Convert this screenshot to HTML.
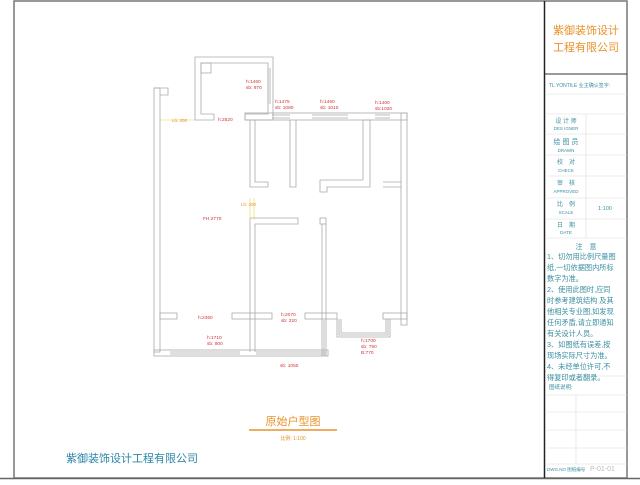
<!DOCTYPE html>
<html><head><meta charset="utf-8"><style>
body{margin:0;width:640px;height:480px;background:#fff;overflow:hidden;font-family:"Liberation Sans","Noto Sans CJK SC",sans-serif}
</style></head><body>
<svg width="640" height="480" viewBox="0 0 640 480" xmlns="http://www.w3.org/2000/svg" font-family="Liberation Sans, Noto Sans CJK SC, sans-serif">
<!-- frame -->
<rect x="14" y="1" width="613" height="477" fill="none" stroke="#777" stroke-width="1.5"/>
<line x1="0" y1="478.5" x2="640" y2="478.5" stroke="#666" stroke-width="1.5"/>
<line x1="544.5" y1="1" x2="544.5" y2="478" stroke="#222" stroke-width="1.5"/>
<line x1="545" y1="74" x2="627" y2="74" stroke="#333" stroke-width="1"/>
<text x="586" y="34" font-size="11" fill="#e8922a" text-anchor="middle">紫御装饰设计</text>
<text x="586" y="51" font-size="11" fill="#e8922a" text-anchor="middle">工程有限公司</text>
<text x="549" y="87" font-size="5" fill="#3a8fa0">TL  YONTILE  业主确认签字:</text>
<g stroke="#ddd" stroke-width="0.6">
<line x1="545" y1="94" x2="627" y2="94"/>
<line x1="545" y1="114" x2="627" y2="114"/>
<line x1="545" y1="134" x2="627" y2="134"/>
<line x1="545" y1="155" x2="627" y2="155"/>
<line x1="545" y1="176" x2="627" y2="176"/>
<line x1="545" y1="198" x2="627" y2="198"/>
<line x1="545" y1="219" x2="627" y2="219"/>
<line x1="545" y1="238" x2="627" y2="238"/>
<line x1="586" y1="114" x2="586" y2="238"/>
<line x1="545" y1="376" x2="627" y2="376"/>
<line x1="545" y1="395" x2="627" y2="395"/>
<line x1="545" y1="412" x2="627" y2="412"/>
<line x1="545" y1="430" x2="627" y2="430"/>
<line x1="545" y1="448" x2="627" y2="448"/>
<line x1="545" y1="464" x2="627" y2="464"/>
<line x1="576" y1="395" x2="576" y2="464"/>
</g>
<g fill="#3a8fa0" text-anchor="middle">
<text x="566" y="123" font-size="6">设 计 师</text><text x="566" y="130" font-size="4.5">DES IGNER</text>
<text x="566" y="144" font-size="7">绘 图 员</text><text x="566" y="152" font-size="4.5">DRAWN</text>
<text x="566" y="164" font-size="6">校　对</text><text x="566" y="172" font-size="4.5">CHECK</text>
<text x="566" y="185" font-size="6">审　核</text><text x="566" y="193" font-size="4.5">APPROVED</text>
<text x="566" y="206" font-size="6">比　例</text><text x="566" y="214" font-size="4.5">SCALE</text>
<text x="605" y="210" font-size="5.5">1:100</text>
<text x="566" y="227" font-size="6">日　期</text><text x="566" y="234" font-size="4.5">DATE</text>
<text x="586" y="249" font-size="7">注　意</text>
</g>
<g fill="#3a8fa0" font-size="7.2">
<text x="547" y="259">1、切勿用比例尺量图</text>
<text x="547" y="270">纸,一切依据图内所标</text>
<text x="547" y="281">数字为准。</text>
<text x="547" y="292">2、使用此图时,应同</text>
<text x="547" y="303">时参考建筑结构 及其</text>
<text x="547" y="314">他相关专业图,如发现</text>
<text x="547" y="325">任何矛盾,请立即通知</text>
<text x="547" y="336">有关设计人员。</text>
<text x="547" y="347">3、如图纸有误差,按</text>
<text x="547" y="358">现场实际尺寸为准。</text>
<text x="547" y="369">4、未经单位许可,不</text>
<text x="547" y="380">得复印或者翻录。</text>
<text x="549" y="389" font-size="5.5">图纸说明:</text>
<text x="547" y="471" font-size="4.5">DWG.NO 图纸编号</text>
</g>
<text x="590" y="471" font-size="7" fill="#bbb">P-01-01</text>

<!-- title -->
<text x="293" y="425" font-size="11" fill="#e8922a" text-anchor="middle">原始户型图</text>
<line x1="249" y1="430" x2="337" y2="430" stroke="#e8922a" stroke-width="1.5"/>
<text x="293" y="440" font-size="5" fill="#e8922a" text-anchor="middle">比例: 1:100</text>
<text x="66" y="462" font-size="11" fill="#2a86a8">紫御装饰设计工程有限公司</text>

<!-- plan -->
<g fill="none" stroke="#aaa" stroke-width="0.8">
<!-- left wall -->
<rect x="154" y="88" width="6" height="264"/>
<path d="M154 88 H168 V95 H160"/>
<!-- bottom wall -->
<rect x="154" y="350" width="174" height="6"/>
<line x1="170" y1="352" x2="240" y2="352"/><line x1="170" y1="354" x2="240" y2="354"/>
<line x1="256" y1="352" x2="326" y2="352"/><line x1="256" y1="354" x2="326" y2="354"/>
<line x1="322" y1="320" x2="322" y2="356"/><line x1="324" y1="320" x2="324" y2="356"/><line x1="326" y1="320" x2="326" y2="356"/>
<!-- balcony top-left -->
<path d="M195 57 H273 V120 H245 V114 H268 V63 H201 V114 H214 V120 H195 Z"/>
<rect x="201" y="63" width="10" height="10"/>
<line x1="268" y1="68" x2="268" y2="104"/><line x1="270" y1="68" x2="270" y2="104"/>
<!-- top wall -->
<rect x="245" y="113" width="162" height="7"/>
<line x1="272" y1="115" x2="290" y2="115"/><line x1="272" y1="118" x2="290" y2="118"/>
<line x1="312" y1="115" x2="348" y2="115"/><line x1="312" y1="118" x2="348" y2="118"/>
<line x1="375" y1="115" x2="390" y2="115"/><line x1="375" y1="118" x2="390" y2="118"/>
<!-- right wall -->
<rect x="401" y="113" width="6" height="212"/>
<!-- interior top -->
<path d="M250 120 V187 H268 V182 H255 V120"/>
<path d="M290 120 V187 H296 V120"/>
<path d="M320 186 V180 H363 V120 H370 V187 H327 V192 H320 Z"/>
<path d="M383 182 H401 M383 187 H401"/>
<!-- center lower -->
<path d="M250 352 V218 H298 V224 H255 V352"/>
<rect x="320" y="218" width="6" height="6"/>
<line x1="322" y1="224" x2="322" y2="320"/><line x1="326" y1="224" x2="326" y2="320"/>
<!-- horizontal y 313 -->
<rect x="160" y="313" width="17" height="6"/>
<rect x="232" y="313" width="40" height="6"/>
<rect x="305" y="313" width="32" height="6"/>
<rect x="383" y="313" width="24" height="6"/>
<!-- bay window -->
<path d="M337 319 V337 H390 V319"/>
<path d="M339 319 V335 H388 V319"/>
<path d="M341 319 V333 H386 V319"/>
</g>
<!-- dimension lines yellow -->
<g stroke="#e8d24a" stroke-width="0.6">
<line x1="160" y1="120" x2="195" y2="120"/>
<line x1="250" y1="198" x2="250" y2="220"/><line x1="254" y1="198" x2="254" y2="220"/>
</g>
<g fill="#d0343a" font-size="4.8">
<text x="246" y="83">h:1460</text><text x="246" y="89">sb: 970</text>
<text x="275" y="103">h:1475</text><text x="275" y="109">sb: 1080</text>
<text x="320" y="103">h:1460</text><text x="320" y="109">sb: 1010</text>
<text x="375" y="104">h:1400</text><text x="375" y="110">sb:1020</text>
<text x="218" y="121">h:2520</text>
<text x="203" y="220">FH:2770</text>
<text x="198" y="319">h:2460</text>
<text x="207" y="339">h:1710</text><text x="207" y="345">sb: 800</text>
<text x="281" y="316">h:2070</text><text x="281" y="322">sb: 220</text>
<text x="361" y="342">h:1700</text><text x="361" y="348">sb: 790</text><text x="361" y="354">B:770</text>
<text x="280" y="367">sb: 1050</text>
</g>
<g fill="#e8922a" font-size="4.5"><text x="172" y="122">Lh: 200</text><text x="241" y="206">Lh: 200</text></g>
</svg>
</body></html>
